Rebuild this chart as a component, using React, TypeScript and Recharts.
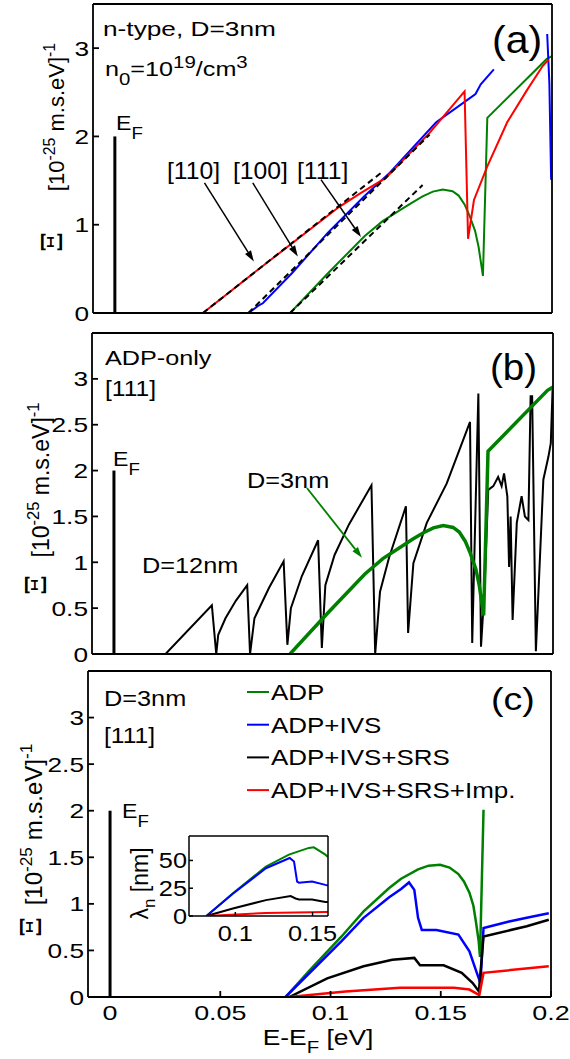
import React from "react";
import { LineChart, Line, XAxis, YAxis, ReferenceLine, Legend, CartesianGrid } from "recharts";

const FONT = '"Liberation Sans", Arial, Helvetica, sans-serif';
const SERIF = '"DejaVu Serif", "Liberation Serif", serif';
const RED = "#ff0000";
const BLUE = "#0000ff";
const GREEN = "#008000";
const BLACK = "#000000";

// axes
const xDomain = [-0.01, 0.2];
const yDomain = [0, 3.5];
const xTicks = [0, 0.05, 0.1, 0.15, 0.2];
const yTicksA = [0, 1, 2, 3];
const yTicksBC = [0, 0.5, 1, 1.5, 2, 2.5, 3];
const insetXDomain = [0.07, 0.16];
const insetYDomain = [0, 72];
const insetXTicks = [0.1, 0.15];
const insetYTicks = [0, 25, 50];

// (a) n-type, D=3nm : [E-EF (eV), Xi]
const a110 = [[0.0403, 0], [0.0644, 0.47], [0.1025, 1.2], [0.1126, 1.36], [0.124, 1.53], [0.129, 1.66], [0.144, 2.04], [0.16, 2.51], [0.1616, 0.84], [0.1643, 1.28], [0.1704, 1.66], [0.1795, 2.16], [0.1887, 2.53], [0.1958, 2.8], [0.1985, 2.87]];
const a100 = [[0.0611, 0], [0.0655, 0.08], [0.0677, 0.11], [0.081, 0.45], [0.0975, 0.91], [0.114, 1.32], [0.1258, 1.59], [0.147, 2.16], [0.1605, 2.4], [0.165, 2.48], [0.1674, 2.59], [0.1734, 2.76], [0.185, null], [0.1978, 3.16], [0.1988, 2.6], [0.1996, 1.51]];
const adp3nm = [[0.0802, 0], [0.0975, 0.45], [0.1142, 0.87], [0.1225, 1.04], [0.1308, 1.17], [0.136, 1.25], [0.1408, 1.32], [0.1455, 1.375], [0.15, 1.4], [0.1545, 1.38], [0.1573, 1.33], [0.16, 1.23], [0.1623, 1.1], [0.1648, 0.93], [0.1664, 0.75], [0.1684, 0.42], [0.1704, 2.21], [0.1975, 2.875], [0.2, 2.91]];
const fit110 = [[0.0403, 0], [0.1219, 1.59]];
const fit100 = [[0.0611, 0], [0.144, 2.02]];
const fit111 = [[0.0802, 0], [0.1408, 1.45]];

// (b) ADP only, [111], D=12nm
const adp12nm = [[0.0235, 0], [0.0446, 0.53], [0.0466, 0], [0.0475, 0.21], [0.0508, 0.39], [0.0555, 0.58], [0.0607, 0.75], [0.062, 0], [0.064, 0.39], [0.0706, 0.72], [0.0773, 1.01], [0.079, 0.1], [0.0806, 0.5], [0.0856, 0.85], [0.093, 1.24], [0.0947, 0.065], [0.0963, 0.75], [0.1005, 1.08], [0.107, 1.41], [0.1173, 1.84], [0.119, 0], [0.1212, 0.68], [0.1253, 1.05], [0.133, 1.61], [0.134, 0.23], [0.1364, 0.99], [0.1425, 1.43], [0.1516, 1.86], [0.1622, 2.53], [0.1632, 0.12], [0.166, 2.84], [0.1672, 0.08], [0.1688, 0.7], [0.1705, 1.79], [0.1728, 1.83], [0.175, 1.93], [0.1766, 1.83], [0.1777, 1.97], [0.1792, 1.72], [0.18, 0.95], [0.1807, 1.5], [0.1816, 0.37], [0.1835, 1.43], [0.1857, 1.72], [0.1872, 1.5], [0.1888, 1.46], [0.1898, 2.81], [0.1905, 2.81], [0.1922, 0.03], [0.1956, 1.9], [0.1979, 2.15], [0.199, 2.3], [0.1998, 2.88]];

// (c) D=3nm, [111], scattering mechanisms
const cAdp = [[0.0796, 0], [0.0903, 0.28], [0.105, 0.65], [0.115, 0.92], [0.1266, 1.17], [0.132, 1.27], [0.1397, 1.37], [0.1445, 1.41], [0.1497, 1.42], [0.154, 1.39], [0.158, 1.32], [0.1605, 1.24], [0.163, 1.12], [0.1648, 0.98], [0.166, 0.8], [0.1672, 0.6], [0.1678, 0.43], [0.1694, 2.01]];
const cIvs = [[0.0796, 0], [0.105, 0.6], [0.115, 0.85], [0.1266, 1.07], [0.132, 1.16], [0.1356, 1.23], [0.138, 1.15], [0.1397, 0.85], [0.1414, 0.72], [0.148, 0.72], [0.158, 0.67], [0.163, 0.49], [0.1662, 0.27], [0.168, 0.15], [0.1694, 0.74], [0.181, 0.81], [0.189, 0.85], [0.199, 0.9]];
const cSrs = [[0.0813, 0], [0.0985, 0.2], [0.115, 0.33], [0.128, 0.4], [0.138, 0.42], [0.1406, 0.34], [0.1513, 0.34], [0.1595, 0.26], [0.1645, 0.15], [0.1673, 0.06], [0.1694, 0.65], [0.189, 0.76], [0.199, 0.83]];
const cImp = [[0.0813, 0], [0.1068, 0.06], [0.1315, 0.1], [0.156, 0.1], [0.163, 0.08], [0.1675, 0.02], [0.1694, 0.26], [0.199, 0.33]];

// inset: mean free path lambda_n (nm)
const lamAdp = [[0.0813, 0], [0.0984, 20.4], [0.1198, 44.5], [0.1347, 55.2], [0.1476, 61.3], [0.1508, 61.8], [0.1583, 55.2], [0.16, 53]];
const lamIvs = [[0.0813, 0], [0.0984, 20], [0.1198, 43], [0.1352, 52.2], [0.138, 49], [0.14, 31], [0.1412, 30], [0.1497, 31], [0.1583, 28], [0.16, 27.5]];
const lamSrs = [[0.0813, 0], [0.0984, 6.7], [0.1198, 14.3], [0.1358, 17.9], [0.139, 15.8], [0.1412, 14.9], [0.1497, 14.9], [0.1583, 12.7], [0.16, 12.5]];
const lamImp = [[0.0813, 0], [0.1198, 2.7], [0.1583, 3.6], [0.16, 3.6]];

const pts = (arr: any[]) => arr.map(([x, y]) => ({ x, y }));
const seg = (x1: number, y1: number, x2: number, y2: number) => [{ x: x1, y: y1 }, { x: x2, y: y2 }];

const yTick = (fs: number, sx: number) => (p: any) => (
  <text transform={`translate(${p.x},${p.y}) scale(${sx},1)`} textAnchor="end" dy={fs * 0.36} fontSize={fs} fontFamily={FONT} fill={BLACK}>
    {p.payload.value}
  </text>
);
const xTick = (fs: number, sx: number) => (p: any) => (
  <text transform={`translate(${p.x},${p.y}) scale(${sx},1)`} textAnchor="middle" dy={fs * 0.72} fontSize={fs} fontFamily={FONT} fill={BLACK}>
    {p.payload.value}
  </text>
);

const arrow = (color: string, w: number) => (p: any) => {
  const { x1, y1, x2, y2 } = p;
  const a = Math.atan2(y2 - y1, x2 - x1);
  const L = 11, W = 3.5;
  const bx = x2 - L * Math.cos(a), by = y2 - L * Math.sin(a);
  const px = -Math.sin(a) * W, py = Math.cos(a) * W;
  return (
    <g>
      <line x1={x1} y1={y1} x2={bx} y2={by} stroke={color} strokeWidth={w} />
      <polygon points={`${x2},${y2} ${bx + px},${by + py} ${bx - px},${by - py}`} fill={color} />
    </g>
  );
};

function Txt({ x, y, fs = 21, sx = 1.2, anchor = "start", children }: any) {
  return (
    <text transform={`translate(${x},${y}) scale(${sx},1)`} fontSize={fs} fontFamily={FONT} textAnchor={anchor} fill={BLACK}>
      {children}
    </text>
  );
}

function YLabel({ bx, cy, fs, xiX, xiY }: any) {
  const up = fs * 0.42;
  return (
    <g>
      <text transform={`translate(${bx},${cy}) rotate(-90)`} textAnchor="middle" fontSize={fs} fontFamily={FONT} fill={BLACK}>
        [10<tspan dy={-up} fontSize={fs * 0.72}>-25</tspan><tspan dy={up}> m.s.eV]</tspan><tspan dy={-up} fontSize={fs * 0.72}>-1</tspan>
      </text>
      <text transform={`translate(${xiX + 9},${xiY}) rotate(-90)`} textAnchor="middle" fontSize={28} fontFamily={SERIF} fill={BLACK}>Ξ</text>
    </g>
  );
}

function EF({ x, y }: any) {
  return (
    <Txt x={x} y={y} fs={21} sx={1.1}>E<tspan dy={9} fontSize={17}>F</tspan></Txt>
  );
}

function axes(g: any, yTicks: number[], xLabels: boolean) {
  const ln = { stroke: BLACK, strokeWidth: 1.8 };
  const tl = 6;
  return [
    <XAxis key="xb" type="number" dataKey="x" domain={xDomain} allowDataOverflow ticks={xTicks} interval={0} height={g.bottom} axisLine={ln} tickLine={ln} tickSize={-tl} tickMargin={tl + 8} tick={xLabels ? xTick(21, 1.28) : false} />,
    <XAxis key="xt" xAxisId="t" orientation="top" type="number" dataKey="x" domain={xDomain} allowDataOverflow ticks={xTicks} interval={0} height={g.top} axisLine={ln} tickLine={ln} tickSize={-tl} tick={false} />,
    <YAxis key="yl" type="number" domain={yDomain} allowDataOverflow ticks={yTicks} interval={0} width={g.left} axisLine={ln} tickLine={ln} tickSize={-tl} tickMargin={tl + 4} tick={yTick(21, 1.25)} />,
    <YAxis key="yr" yAxisId="r" orientation="right" type="number" domain={yDomain} allowDataOverflow ticks={yTicks} interval={0} width={g.right} axisLine={ln} tickLine={ln} tickSize={-tl} tick={false} />,
  ];
}

const renderLegend = (props: any) => {
  const items = props.payload || [];
  return (
    <svg width={300} height={140} style={{ display: "block", overflow: "visible" }}>
      {items.map((it: any, i: number) => {
        const by = 25 + i * 32.7;
        return (
          <g key={i}>
            <line x1={7} x2={29} y1={by - 8} y2={by - 8} stroke={it.color} strokeWidth={2} />
            <Txt x={31} y={by} fs={22} sx={1.18}>{it.value}</Txt>
          </g>
        );
      })}
    </svg>
  );
};

export default function App() {
  const ln = { stroke: BLACK, strokeWidth: 1.5 };
  const EF_LINE = seg(0, 0, 0, 2);
  return (
    <div style={{ position: "absolute", left: 0, top: 0, width: 570, height: 1059, background: "#fff" }}>
      {/* (a) */}
      <div style={{ position: "absolute", left: 0, top: 0 }}>
        <LineChart width={570} height={330} margin={{ top: 0, right: 0, bottom: 0, left: 0 }}>
          {axes({ left: 93, right: 18, top: 4, bottom: 17 }, yTicksA, false)}
          <ReferenceLine segment={EF_LINE} stroke={BLACK} strokeWidth={3} />
          <Line data={pts(adp3nm)} dataKey="y" stroke={GREEN} strokeWidth={2} dot={false} isAnimationActive={false} />
          <Line data={pts(a100)} dataKey="y" stroke={BLUE} strokeWidth={2} dot={false} isAnimationActive={false} />
          <Line data={pts(a110)} dataKey="y" stroke={RED} strokeWidth={2} dot={false} isAnimationActive={false} />
          <Line data={pts(fit110)} dataKey="y" stroke={BLACK} strokeWidth={2} strokeDasharray="6 4" dot={false} isAnimationActive={false} />
          <Line data={pts(fit100)} dataKey="y" stroke={BLACK} strokeWidth={2} strokeDasharray="6 4" dot={false} isAnimationActive={false} />
          <Line data={pts(fit111)} dataKey="y" stroke={BLACK} strokeWidth={2} strokeDasharray="6 4" dot={false} isAnimationActive={false} />
          <ReferenceLine segment={seg(0.041, 1.474, 0.0636, 0.583)} shape={arrow(BLACK, 1.5)} />
          <ReferenceLine segment={seg(0.0631, 1.474, 0.0837, 0.64)} shape={arrow(BLACK, 1.5)} />
          <ReferenceLine segment={seg(0.0943, 1.511, 0.1126, 0.86)} shape={arrow(BLACK, 1.5)} />
          <Txt x={103} y={36} fs={21} sx={1.25}>n-type, D=3nm</Txt>
          <Txt x={105} y={76} fs={21} sx={1.2}>
            n<tspan dy={9} fontSize={17}>0</tspan><tspan dy={-9}>=10</tspan><tspan dy={-8} fontSize={17}>19</tspan><tspan dy={8}>/cm</tspan><tspan dy={-8} fontSize={17}>3</tspan>
          </Txt>
          <EF x={116} y={130} />
          <Txt x={492} y={53} fs={38} sx={1.08}>(a)</Txt>
          <Txt x={167} y={179} fs={24} sx={1.03}>[110]</Txt>
          <Txt x={233} y={179} fs={24} sx={1.03}>[100]</Txt>
          <Txt x={297} y={179} fs={24} sx={1.03}>[111]</Txt>
          <YLabel bx={64} cy={117} fs={22} xiX={53} xiY={242} />
        </LineChart>
      </div>

      {/* (b) */}
      <div style={{ position: "absolute", left: 0, top: 326 }}>
        <LineChart width={570} height={340} margin={{ top: 0, right: 0, bottom: 0, left: 0 }}>
          {axes({ left: 92, right: 17, top: 7, bottom: 12 }, yTicksBC, false)}
          <ReferenceLine segment={EF_LINE} stroke={BLACK} strokeWidth={3} />
          <Line data={pts(adp12nm)} dataKey="y" stroke={BLACK} strokeWidth={2} dot={false} isAnimationActive={false} />
          <Line data={pts(adp3nm)} dataKey="y" stroke={GREEN} strokeWidth={3.5} dot={false} isAnimationActive={false} />
          <ReferenceLine segment={seg(0.0879, 1.81, 0.113, 1.05)} shape={arrow(GREEN, 1.8)} />
          <Txt x={105} y={39} fs={21} sx={1.2}>ADP-only</Txt>
          <Txt x={105} y={70} fs={22} sx={1.12}>[111]</Txt>
          <Txt x={490} y={54} fs={36} sx={1.07}>(b)</Txt>
          <EF x={113} y={140} />
          <Txt x={247} y={162} fs={22} sx={1.15}>D=3nm</Txt>
          <Txt x={142} y={247} fs={22} sx={1.15}>D=12nm</Txt>
          <YLabel bx={49} cy={154} fs={23} xiX={37} xiY={259} />
        </LineChart>
      </div>

      {/* (c) */}
      <div style={{ position: "absolute", left: 0, top: 664 }}>
        <LineChart width={570} height={395} margin={{ top: 0, right: 0, bottom: 0, left: 0 }}>
          {axes({ left: 88, right: 19, top: 7, bottom: 62 }, yTicksBC, true)}
          <ReferenceLine segment={EF_LINE} stroke={BLACK} strokeWidth={3} />
          <Line name="ADP" data={pts(cAdp)} dataKey="y" stroke={GREEN} strokeWidth={2.5} dot={false} isAnimationActive={false} />
          <Line name="ADP+IVS" data={pts(cIvs)} dataKey="y" stroke={BLUE} strokeWidth={2.5} dot={false} isAnimationActive={false} />
          <Line name="ADP+IVS+SRS" data={pts(cSrs)} dataKey="y" stroke={BLACK} strokeWidth={2.5} dot={false} isAnimationActive={false} />
          <Line name="ADP+IVS+SRS+Imp." data={pts(cImp)} dataKey="y" stroke={RED} strokeWidth={2.5} dot={false} isAnimationActive={false} />
          <Legend layout="horizontal" verticalAlign="middle" align="center" content={renderLegend} wrapperStyle={{ left: 240, top: 11, width: 300, height: 140 }} />
          <Txt x={104} y={42} fs={22} sx={1.15}>D=3nm</Txt>
          <Txt x={104} y={79} fs={22} sx={1.12}>[111]</Txt>
          <Txt x={491} y={46} fs={32} sx={1.17}>(c)</Txt>
          <EF x={122} y={154} />
          <Txt x={318} y={381} fs={22} sx={1.2} anchor="middle">
            E-E<tspan dy={8} fontSize={17}>F</tspan><tspan dy={-8}> [eV]</tspan>
          </Txt>
          <YLabel bx={42} cy={160.5} fs={24} xiX={32} xiY={263} />
        </LineChart>
      </div>

      {/* inset of (c) */}
      <div style={{ position: "absolute", left: 110, top: 826 }}>
        <LineChart width={240} height={125} margin={{ top: 0, right: 0, bottom: 0, left: 0 }}>
          <CartesianGrid horizontal={false} vertical={false} fill="#fff" />
          <XAxis type="number" dataKey="x" domain={insetXDomain} allowDataOverflow ticks={insetXTicks} interval={0} height={35} axisLine={ln} tickLine={ln} tickSize={-4} tickMargin={13} tick={xTick(22, 1.15)} />
          <XAxis xAxisId="t" orientation="top" type="number" dataKey="x" domain={insetXDomain} allowDataOverflow ticks={insetXTicks} interval={0} height={10} axisLine={ln} tickLine={ln} tickSize={-4} tick={false} />
          <YAxis type="number" domain={insetYDomain} allowDataOverflow ticks={insetYTicks} interval={0} width={79} axisLine={ln} tickLine={ln} tickSize={-4} tickMargin={6} tick={yTick(22, 1.15)} />
          <YAxis yAxisId="r" orientation="right" type="number" domain={insetYDomain} allowDataOverflow ticks={insetYTicks} interval={0} width={22} axisLine={ln} tickLine={ln} tickSize={-4} tick={false} />
          <Line data={pts(lamAdp)} dataKey="y" stroke={GREEN} strokeWidth={2} dot={false} isAnimationActive={false} />
          <Line data={pts(lamIvs)} dataKey="y" stroke={BLUE} strokeWidth={2} dot={false} isAnimationActive={false} />
          <Line data={pts(lamSrs)} dataKey="y" stroke={BLACK} strokeWidth={2} dot={false} isAnimationActive={false} />
          <Line data={pts(lamImp)} dataKey="y" stroke={RED} strokeWidth={2} dot={false} isAnimationActive={false} />
          <text transform="translate(38,57.5) rotate(-90)" textAnchor="middle" fontSize={23} fontFamily={FONT} fill={BLACK}>
            λ<tspan dy={7} fontSize={17}>n</tspan><tspan dy={-7}> [nm]</tspan>
          </text>
        </LineChart>
      </div>
    </div>
  );
}
